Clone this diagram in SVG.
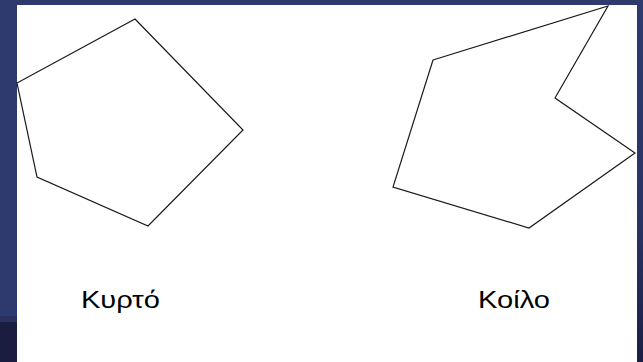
<svg xmlns="http://www.w3.org/2000/svg" width="643" height="362" viewBox="0 0 643 362">
  <defs>
    <linearGradient id="bgRight" x1="0" y1="0" x2="0" y2="1">
      <stop offset="0" stop-color="#2f3a6e"/>
      <stop offset="0.6" stop-color="#2a3464"/>
      <stop offset="1" stop-color="#1b1f45"/>
    </linearGradient>
    <style>
      .shape { fill: none; stroke: #1a1a1a; stroke-width: 1.2; stroke-linejoin: miter; }
      .label { font-family: "Liberation Sans", Arial, sans-serif; font-size: 24.5px; fill: #000; }
    </style>
  </defs>
  <rect x="0" y="0" width="643" height="362" fill="#2e3a6e"/>
  <rect x="0" y="322" width="17" height="40" fill="#1a1d40"/>
  <rect x="0" y="316" width="17" height="6" fill="#2a3160"/>
  <rect x="637" y="0" width="6" height="362" fill="url(#bgRight)"/>
  <rect x="17" y="5" width="620" height="357" fill="#ffffff"/>

  <g id="convex">
    <polygon class="shape" points="135,19 243,130 148,226 37,177 17,83"/>
    <text class="label" x="81" y="308" textLength="79" lengthAdjust="spacingAndGlyphs">Κυρτό</text>
  </g>
  <g id="concave">
    <polygon class="shape" points="433,60 608,6 555,98 635,153 529,228 393,187"/>
    <text class="label" x="478" y="308" textLength="72" lengthAdjust="spacingAndGlyphs">Κοίλο</text>
  </g>
  <g id="connectors"/>
</svg>
